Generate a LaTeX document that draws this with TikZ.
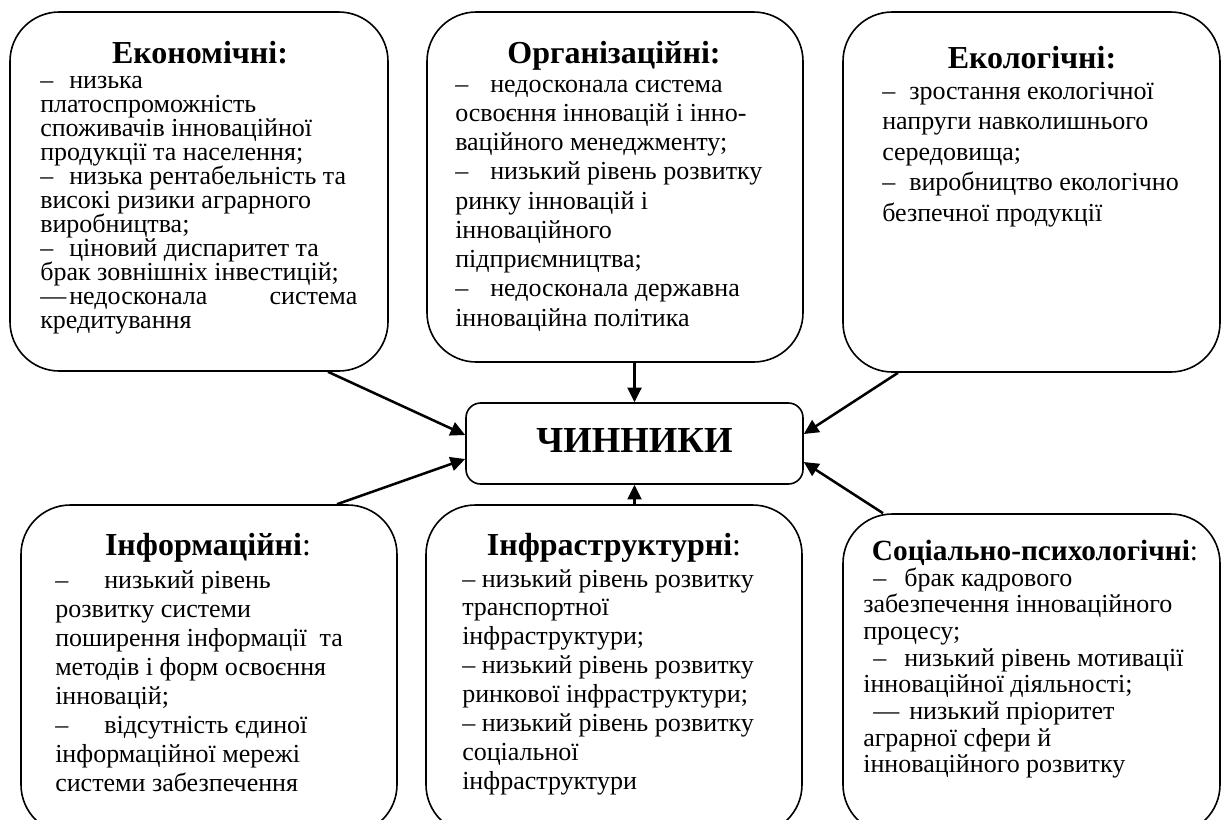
\documentclass[tikz,border=0pt]{standalone}
\usepackage{fontspec}
\setmainfont{Liberation Serif}
\usetikzlibrary{arrows.meta,fit,calc}
\newlength\pxu
\setlength\pxu{0.75pt}
\begin{document}
\begin{tikzpicture}[x=0.75pt,y=-0.75pt,
  box/.style={draw, line width=1.2pt, rounded corners=37pt, inner sep=0pt},
  cbox/.style={draw, line width=1.2pt, rounded corners=11pt, inner sep=0pt},
  arr/.style={line width=1.9pt, -{Triangle[length=11pt,width=10.5pt]}},
  head/.style={anchor=base, font=\fontsize{24}{28}\selectfont, inner sep=0pt},
  shead/.style={anchor=base, font=\fontsize{22}{26}\selectfont, inner sep=0pt},
  body/.style={anchor=base west, font=\fontsize{19.5}{22}\selectfont, inner sep=0pt},
  big/.style={anchor=base, font=\fontsize{27.5}{32}\selectfont\bfseries, inner sep=0pt}
]
\useasboundingbox (0,0) rectangle (1225,819);

% boxes
\node[box, fit={(10,12)(388,371)}] (eco) {};
\node[box, fit={(427,12)(803,362)}] (org) {};
\node[box, fit={(843,12)(1220,372)}] (ecol) {};
\node[box, fit={(21,505)(397,834)}] (info) {};
\node[box, fit={(426,505)(802,834)}] (inf) {};
\node[box, fit={(843,514)(1220,834)}] (soc) {};
\node[cbox, fit={(466,403)(803,484)}] (chin) {};

% centre text
\node[big] (chintxt) at (634.5,452) {ЧИННИКИ};

% headings
\node[head] (ecoh) at (200,63) {\textbf{Економічні:}};
\node[head] (orgh) at (614,63) {\textbf{Організаційні:}};
\node[head] (ecolh) at (1032,68) {\textbf{Екологічні:}};
\node[head] (infoh) at (208,555) {\textbf{Інформаційні}:};
\node[head] (infh) at (614,555) {\textbf{Інфраструктурні}:};
\node[shead] (soch) at (1035,560) {\textbf{Соціально-психологічні}:};

% economic
\foreach \t [count=\i from 0] in {
  {–\hspace{16\pxu}низька},
  {платоспроможність},
  {споживачів інноваційної},
  {продукції та населення;},
  {–\hspace{16\pxu}низька рентабельність та},
  {високі ризики аграрного},
  {виробництва;},
  {–\hspace{16\pxu}ціновий диспаритет та},
  {брак зовнішніх інвестицій;},
  {\makebox[317\pxu][s]{—\hspace{3\pxu}недосконала\hfill система}},
  {кредитування}}
  \node[body] (eco-\i) at (40,{88+24*\i}) {\t};

% organisational
\foreach \t [count=\i from 0] in {
  {–\hspace{22\pxu}недосконала система},
  {освоєння інновацій і інно-},
  {ваційного менеджменту;},
  {–\hspace{22\pxu}низький рівень розвитку},
  {ринку інновацій і},
  {інноваційного},
  {підприємництва;},
  {–\hspace{22\pxu}недосконала державна},
  {інноваційна політика}}
  \node[body] (org-\i) at (455,{92+29.25*\i}) {\t};

% ecological
\foreach \t [count=\i from 0] in {
  {–\hspace{14\pxu}зростання екологічної},
  {напруги навколишнього},
  {середовища;},
  {–\hspace{14\pxu}виробництво екологічно},
  {безпечної продукції}}
  \node[body] (ecol-\i) at (882,{99+30.5*\i}) {\t};

% informational
\foreach \t [count=\i from 0] in {
  {–\hspace{36\pxu}низький рівень},
  {розвитку системи},
  {поширення інформації\ \ та},
  {методів і форм освоєння},
  {інновацій;},
  {–\hspace{36\pxu}відсутність єдиної},
  {інформаційної мережі},
  {системи забезпечення}}
  \node[body] (info-\i) at (55,{588+29*\i}) {\t};

% infrastructural
\foreach \t [count=\i from 0] in {
  {– низький рівень розвитку},
  {транспортної},
  {інфраструктури;},
  {– низький рівень розвитку},
  {ринкової інфраструктури;},
  {– низький рівень розвитку},
  {соціальної},
  {інфраструктури}}
  \node[body] (inf-\i) at (462,{587+28.9*\i}) {\t};

% socio-psychological
\foreach \t [count=\i from 0] in {
  {\hspace{10\pxu}–\hspace{18\pxu}брак кадрового},
  {забезпечення інноваційного},
  {процесу;},
  {\hspace{10\pxu}–\hspace{18\pxu}низький рівень мотивації},
  {інноваційної діяльності;},
  {\hspace{10\pxu}—\hspace{10\pxu}низький пріоритет},
  {аграрної сфери й},
  {інноваційного розвитку}}
  \node[body] (soc-\i) at (863,{586+26.7*\i}) {\t};

% connectors
\draw[arr] ($(eco.south)+(129,0)$) -- ($(chin.west)+(0,-8.5)$);
\draw[arr] (org.south -| chin.north) -- (chin.north);
\draw[arr] ($(ecol.south)+(-133.5,0)$) -- ($(chin.east)+(0,-9.5)$);
\draw[arr] ($(info.north)+(128,0)$) -- ($(chin.west)+(0,15.5)$);
\draw[arr] (inf.north -| chin.south) -- (chin.south);
\draw[arr] ($(soc.north)+(-148.5,0)$) -- ($(chin.east)+(0,18.5)$);
\end{tikzpicture}
\end{document}
